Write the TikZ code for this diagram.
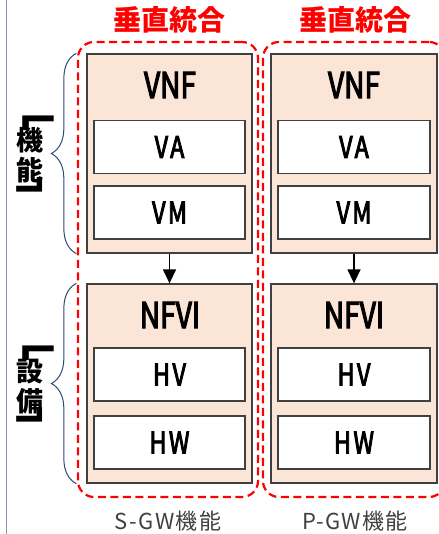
\documentclass[tikz,border=0pt]{standalone}
\usepackage{fontspec}
\setmainfont{Noto Sans CJK JP}
\newfontfamily\boxfont[FakeStretch=0.78,FakeBold=3]{Noto Sans CJK JP}
\usetikzlibrary{arrows.meta,decorations.pathreplacing}
\definecolor{peach}{HTML}{FBE5D6}
\definecolor{edgegray}{HTML}{404040}
\definecolor{bracenavy}{HTML}{2F4A73}
\definecolor{sidegray}{HTML}{8497B0}
\newcommand\openmark{\scalebox{1.7}[1.6]{\reflectbox{﹁}}}
\newcommand\closemark{\scalebox{1.4}[1.6]{\reflectbox{﹂}}}
\begin{document}
\begin{tikzpicture}[x=1pt,y=-1pt]
    \tikzset{
      tier/.style={draw=edgegray,line width=1.3pt,fill=peach,minimum width=165pt,minimum height=199pt},
      part/.style={draw=edgegray,line width=1.3pt,fill=white,minimum width=151pt,minimum height=53pt,
                   font=\boxfont\fontsize{30}{30}\selectfont\addfontfeature{LetterSpace=8}},
      tiername/.style={font=\boxfont\fontsize{36}{36}\selectfont},
      vgroup/.style={draw=red,line width=2.2pt,rounded corners=16pt,dash pattern=on 8pt off 4.5pt,
                     minimum width=180pt,minimum height=455pt},
      headline/.style={text=red,font=\fontsize{28}{28}\selectfont\bfseries},
      footline/.style={text=edgegray,font=\fontsize{22}{22}\selectfont\addfontfeature{LetterSpace=6}},
      sideline/.style={font=\fontsize{27}{30}\selectfont\bfseries,align=center,inner sep=0pt},
      bracketmark/.style={font=\fontsize{27}{27}\selectfont\bfseries,inner sep=0pt},
      brace/.style={draw=bracenavy,line width=1pt,decorate,decoration={brace,amplitude=25pt}},
      flow/.style={line width=1.4pt,-{Triangle[width=13pt,length=14pt]}}
    }
    \useasboundingbox (0,0) rectangle (438,534);
    \draw[sidegray,line width=1pt] (6,0) -- (6,534);
    % S-GW
    \node[vgroup] (grpS) at (168,269.5) {};
    \node[headline] (headS) at (169,20) {垂直統合};
    \node[tier] (vnfS) at (169.5,153.5) {};
    \node[tiername] at (170,85) {VNF};
    \node[part] (vaS) at (169.5,147) {VA};
    \node[part] (vmS) at (169.5,212.5) {VM};
    \node[tier] (nfviS) at (169.5,383.5) {};
    \node[tiername] at (170,315) {NFVI};
    \node[part] (hvS) at (169.5,374.5) {HV};
    \node[part] (hwS) at (169.5,442.5) {HW};
    \draw[flow] (vnfS.south) -- (nfviS.north);
    \node[footline] (footS) at (168,521) {S-GW機能};
    % P-GW
    \node[vgroup,minimum width=182pt] (grpP) at (354,269.5) {};
    \node[headline] (headP) at (355,20) {垂直統合};
    \node[tier,minimum width=166pt] (vnfP) at (354,153.5) {};
    \node[tiername] at (354,85) {VNF};
    \node[part,minimum width=152pt] (vaP) at (354,147) {VA};
    \node[part,minimum width=152pt] (vmP) at (354,212.5) {VM};
    \node[tier,minimum width=166pt] (nfviP) at (354,383.5) {};
    \node[tiername] at (354,315) {NFVI};
    \node[part,minimum width=152pt] (hvP) at (354,374.5) {HV};
    \node[part,minimum width=152pt] (hwP) at (354,442.5) {HW};
    \draw[flow] (vnfP.south) -- (nfviP.north);
    \node[footline] (footP) at (355,521) {P-GW機能};
    % braces
    \draw[brace] ([xshift=-10pt]vnfS.south west) -- ([xshift=-10pt]vnfS.north west);
    \draw[brace] ([xshift=-10pt]nfviS.south west) -- ([xshift=-10pt]nfviS.north west);
    \node[sideline] (kinou) at (30,155) {機\\能};
    \node[bracketmark] at (45,123) {\openmark};
    \node[bracketmark] at (25,195) {\closemark};
    \node[sideline] (setsubi) at (30,387) {設\\備};
    \node[bracketmark] at (45,353) {\openmark};
    \node[bracketmark] at (25,425) {\closemark};
\end{tikzpicture}
\end{document}
